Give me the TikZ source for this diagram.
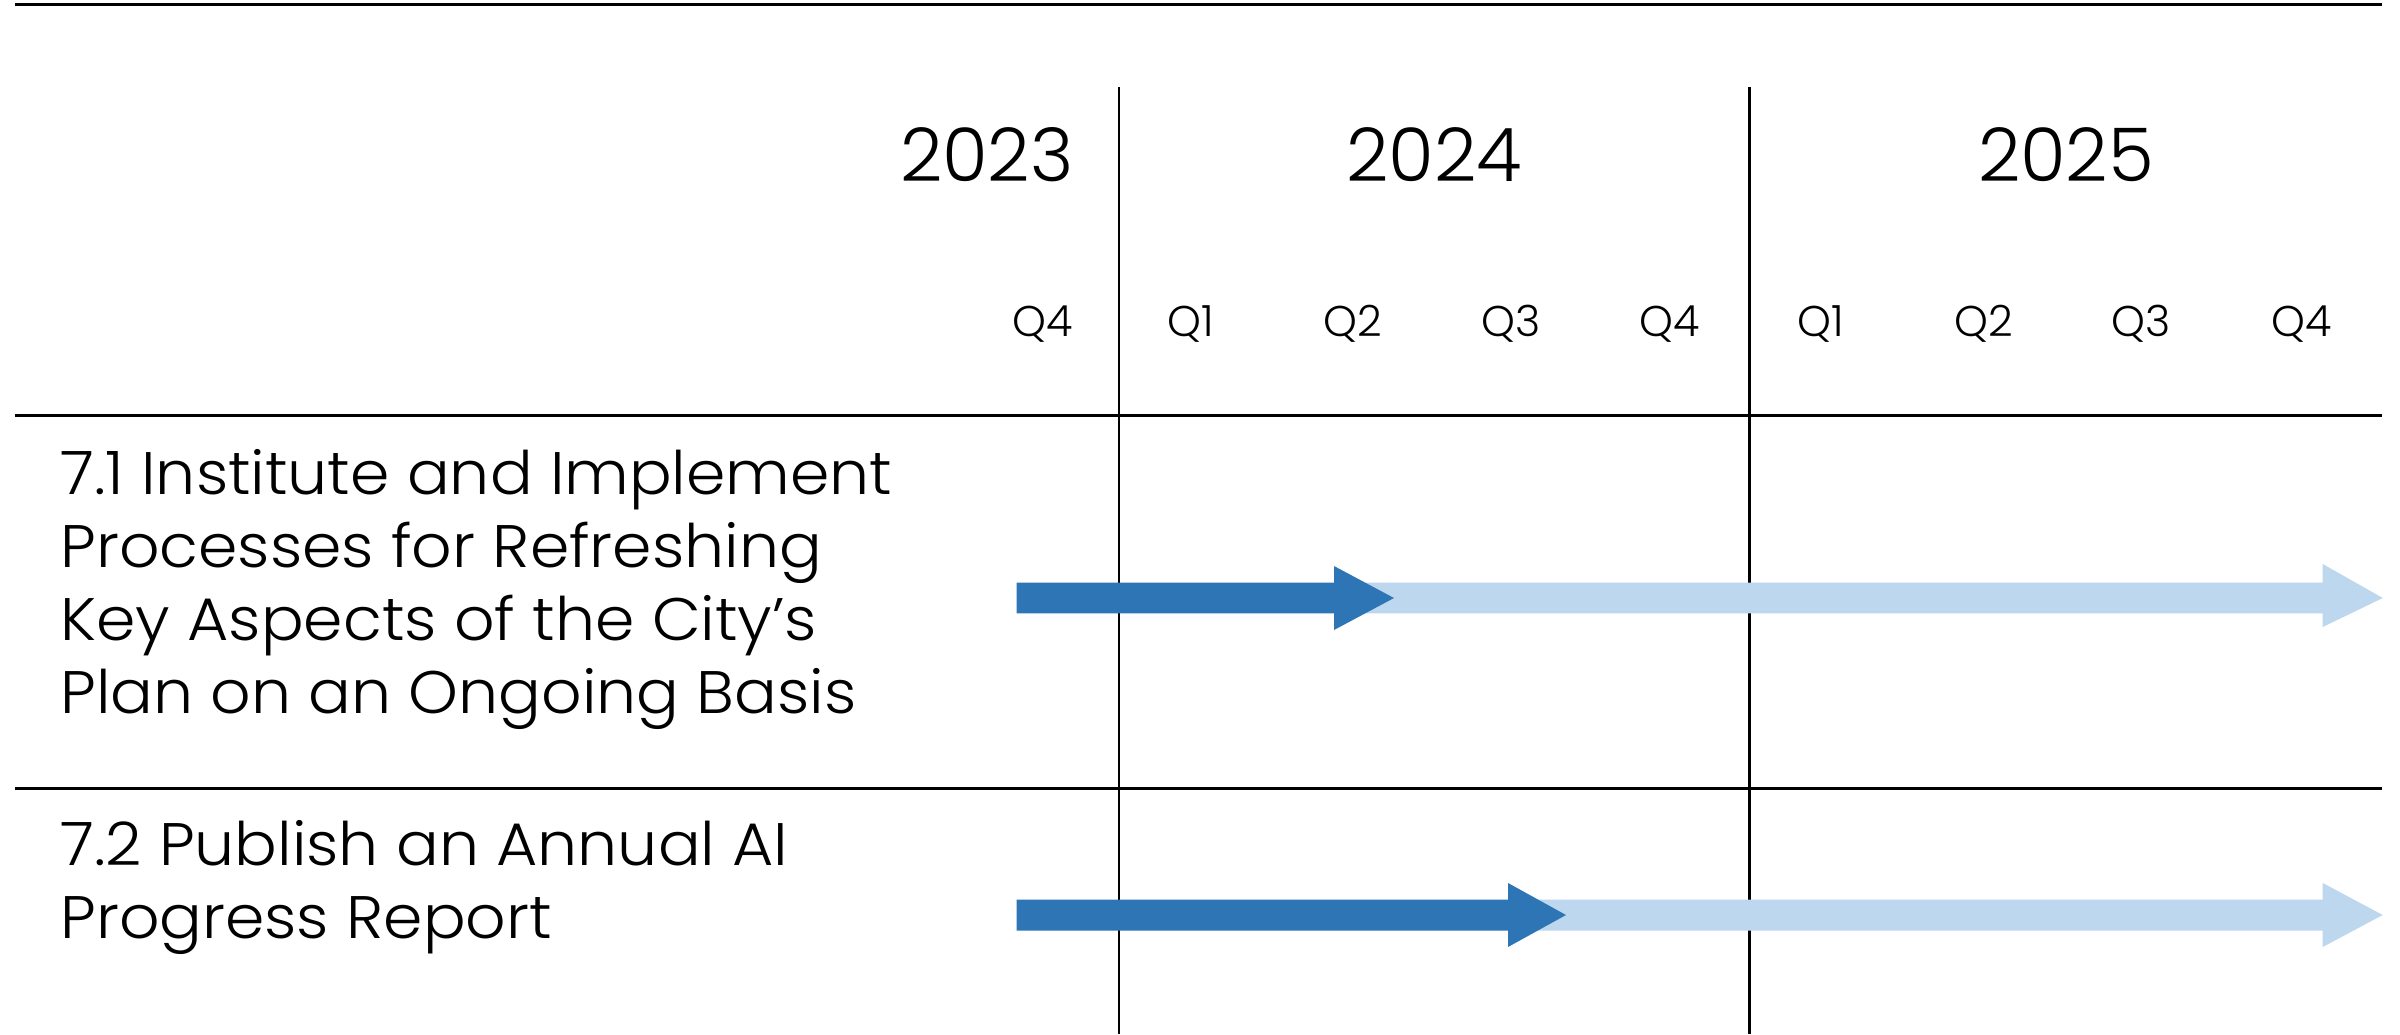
\documentclass[tikz,border=0pt]{standalone}
\usepackage{fontspec}
\IfFontExistsTF{Poppins Light}{\setmainfont{Poppins Light}}{\setmainfont{Poppins}}
\definecolor{darkblue}{RGB}{46,117,182}
\definecolor{lightblue}{RGB}{189,215,238}
\begin{document}
\begin{tikzpicture}[x=0.5pt,y=-0.5pt,
  rule/.style={line width=1.5pt,black},
  vrule/.style={line width=1.1pt,black},
  year/.style={font=\fontsize{37}{40}\selectfont,inner sep=0pt,anchor=base},
  qlab/.style={font=\fontsize{21.5}{24}\selectfont,inner sep=0pt,anchor=base},
  rowlab/.style={font=\fontsize{30}{36.5}\selectfont\addfontfeature{FakeStretch=1.055},inner sep=0pt,anchor=base west},
  darkarrow/.style={fill=darkblue,draw=none},
  lightarrow/.style={fill=lightblue,draw=none}]
\useasboundingbox (0,0) rectangle (2400,1034);
\fill[white] (0,0) rectangle (2400,1034);
% lines
\coordinate (tl) at (15,4.6); \coordinate (tr) at (2382,4.6);
\draw[rule] (tl) -- (tr);
\coordinate (h1l) at (15,415); \coordinate (h1r) at (2382,415);
\draw[rule] (h1l) -- (h1r);
\coordinate (h2l) at (15,788); \coordinate (h2r) at (2382,788);
\draw[rule] (h2l) -- (h2r);
\coordinate (v1t) at (1119,87); \coordinate (v1b) at (1119,1034);
\draw[vrule] (v1t) -- (v1b);
\coordinate (v2t) at (1749.5,87); \coordinate (v2b) at (1749.5,1034);
\draw[vrule] (v2t) -- (v2b);
% years
\node[year,anchor=base east] (y2023) at (1074,181) {2023};
\node[year] (y2024) at (1434,181) {2024};
\node[year] (y2025) at (2066,181) {2025};
% quarters
\node[qlab,anchor=base east] (q0) at (1073,336) {Q4};
\node[qlab] (q1) at (1191,336) {Q1};
\node[qlab] (q2) at (1353,336) {Q2};
\node[qlab] (q3) at (1511,336) {Q3};
\node[qlab] (q4) at (1670,336) {Q4};
\node[qlab] (q5) at (1821,336) {Q1};
\node[qlab] (q6) at (1984,336) {Q2};
\node[qlab] (q7) at (2141,336) {Q3};
\node[qlab] (q8) at (2302,336) {Q4};
% row labels
\node[rowlab] (r1) at (60,494) {\begin{tabular}[t]{@{}l@{}}7.1 Institute and Implement\\Processes for Refreshing\\Key Aspects of the City’s\\Plan on an Ongoing Basis\end{tabular}};
\node[rowlab] (r2) at (60,865) {\begin{tabular}[t]{@{}l@{}}7.2 Publish an Annual AI\\Progress Report\end{tabular}};
% arrows row 1
\fill[lightarrow] (1334,582.5) -- (2322.7,582.5) -- (2322.7,564) -- (2382.7,598) -- (2322.7,627) -- (2322.7,613.3) -- (1334,613.3) -- cycle;
\fill[darkarrow] (1016.7,582.5) -- (1334,582.5) -- (1334,566) -- (1394,598) -- (1334,630) -- (1334,613.3) -- (1016.7,613.3) -- cycle;
% arrows row 2
\fill[lightarrow] (1508,899.5) -- (2322.7,899.5) -- (2322.7,883) -- (2382.7,915) -- (2322.7,947) -- (2322.7,930.5) -- (1508,930.5) -- cycle;
\fill[darkarrow] (1016.7,899.5) -- (1508,899.5) -- (1508,883) -- (1566,915) -- (1508,947) -- (1508,930.5) -- (1016.7,930.5) -- cycle;
\end{tikzpicture}
\end{document}
